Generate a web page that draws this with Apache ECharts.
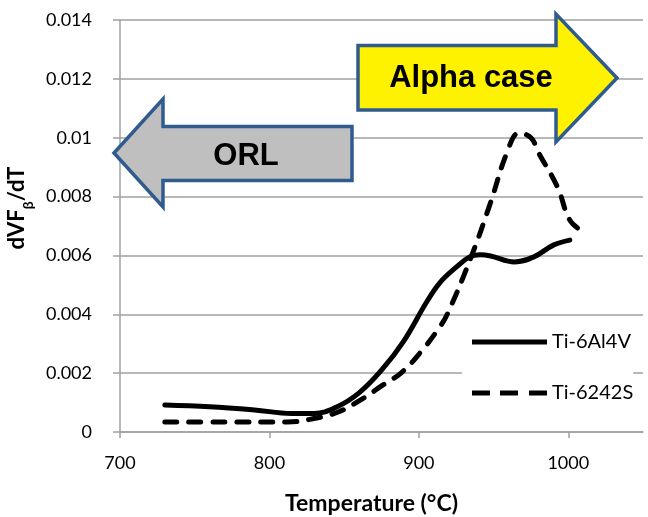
<!DOCTYPE html>
<html>
<head>
    <meta charset="utf-8">
    <title>dVFβ/dT vs Temperature</title>
    <script src="https://cdn.jsdelivr.net/npm/echarts@6/dist/echarts.min.js"></script>
    <style>
        html, body { margin: 0; height: 100%; background: #fff; }
        #main { width: 648px; height: 517px; }
    </style>
</head>
<body>
    <div id="main"></div>
    <script>
        // data (temperature in °C, dVFβ/dT)
        var seriesNames = ['Ti-6Al4V', 'Ti-6242S'];
        var tempA = [730, 760, 790, 815, 830, 845, 860, 875, 890, 905, 914, 925, 934, 941, 948, 964, 977, 990, 1001];
        var valA = [0.00092, 0.00086, 0.00075, 0.00063, 0.00063, 0.00085, 0.00133, 0.0021, 0.0031, 0.0044, 0.00507, 0.0056, 0.00595, 0.00602, 0.00598, 0.00578, 0.00595, 0.00635, 0.00652];
        var tempB = [730, 770, 812, 829, 846, 863, 876, 888, 901, 913, 919, 935, 948, 959, 967, 975, 980, 993, 1001, 1010];
        var valB = [0.00034, 0.00034, 0.00034, 0.00045, 0.00068, 0.00115, 0.0016, 0.002, 0.0027, 0.0035, 0.004, 0.00595, 0.0078, 0.0095, 0.01016, 0.0100, 0.0095, 0.0083, 0.0072, 0.0068];
        var arrowLabels = ['Alpha case', 'ORL'];

        function pairs(xs, ys) {
            return xs.map(function (x, i) { return [x, ys[i]]; });
        }

        var font = 'Lato, "Open Sans", sans-serif';
        var gridGray = '#a0a0a0';
        var arrowBlue = '#2f5b8e';

        // legend icons: thick solid bar and three dashes
        var solidIcon = 'path://M0,0H75V5H0Z';
        var dashIcon = 'path://M0,0H18V5H0Z M28,0H46V5H28Z M57,0H75V5H57Z';

        var chart = echarts.init(document.getElementById('main'));

        var option = {
            animation: false,
            grid: { left: 120, right: 5, top: 20, bottom: 85, outerBoundsMode: 'none' },
            legend: {
                orient: 'vertical',
                left: 462,
                top: 324,
                itemWidth: 75,
                itemHeight: 5,
                itemGap: 31,
                padding: [8, 0, 12, 10],
                backgroundColor: '#fff',
                textStyle: { fontFamily: font, fontSize: 20, color: '#000' },
                data: [
                    { name: seriesNames[0], icon: solidIcon },
                    { name: seriesNames[1], icon: dashIcon }
                ]
            },
            xAxis: {
                type: 'value',
                min: 700,
                max: 1050,
                interval: 100,
                name: 'Temperature (°C)',
                nameLocation: 'middle',
                nameGap: 60,
                nameTextStyle: { fontFamily: font, fontSize: 23, fontWeight: 'bold', color: '#000', padding: [0, 20, 0, 0] },
                axisLine: { lineStyle: { color: gridGray, width: 1.5 } },
                axisTick: { show: true, length: 6, lineStyle: { color: gridGray, width: 1.5 } },
                axisLabel: {
                    fontFamily: font, fontSize: 18, color: '#000', margin: 22, showMaxLabel: false,
                    formatter: function (v) { return String(v); }
                },
                splitLine: { show: false }
            },
            yAxis: {
                type: 'value',
                min: 0,
                max: 0.014,
                interval: 0.002,
                name: 'dVF{b|β}/dT',
                nameLocation: 'middle',
                nameGap: 82,
                nameTextStyle: {
                    fontFamily: font, fontSize: 22, fontWeight: 'bold', color: '#000',
                    padding: [0, 0, 0, 36],
                    rich: { b: { fontFamily: font, fontSize: 14, fontWeight: 'bold', color: '#000', verticalAlign: 'bottom', padding: [0, 0, -7, 0] } }
                },
                axisLine: { show: true, lineStyle: { color: gridGray, width: 1.5 } },
                axisTick: { show: true, inside: false, length: 7, lineStyle: { color: gridGray, width: 1.5 } },
                axisLabel: {
                    fontFamily: font, fontSize: 18, color: '#000', margin: 28,
                    formatter: function (v) { return String(+v.toFixed(3)); }
                },
                splitLine: { lineStyle: { color: gridGray, width: 1.5 } }
            },
            series: [
                {
                    name: seriesNames[0],
                    type: 'line',
                    data: pairs(tempA, valA),
                    smooth: 0.4,
                    symbol: 'none',
                    lineStyle: { color: '#000', width: 5, cap: 'round' },
                    itemStyle: { color: '#000' },
                    z: 3
                },
                {
                    name: seriesNames[1],
                    type: 'line',
                    data: pairs(tempB, valB),
                    smooth: 0.4,
                    symbol: 'none',
                    lineStyle: { color: '#000', width: 5, type: [12, 12], cap: 'round' },
                    itemStyle: { color: '#000' },
                    z: 2
                }
            ],
            graphic: [
                {
                    type: 'polygon',
                    z: 10,
                    shape: { points: [[358, 45.5], [556, 45.5], [556, 14], [617, 78], [556, 142], [556, 110], [358, 110]] },
                    style: { fill: '#fff200', stroke: arrowBlue, lineWidth: 3.5, lineJoin: 'miter' }
                },
                {
                    type: 'text',
                    z: 11,
                    x: 471, y: 78,
                    style: { text: arrowLabels[0], fill: '#000', font: 'bold 31px "Liberation Sans", Arial, sans-serif', align: 'center', verticalAlign: 'middle' }
                },
                {
                    type: 'polygon',
                    z: 10,
                    shape: { points: [[114, 153], [163, 99], [163, 126.5], [352, 126.5], [352, 180.6], [163, 180.6], [163, 207]] },
                    style: { fill: '#bfbfbf', stroke: arrowBlue, lineWidth: 3.5, lineJoin: 'miter' }
                },
                {
                    type: 'text',
                    z: 11,
                    x: 246, y: 156,
                    style: { text: arrowLabels[1], fill: '#000', font: 'bold 31px "Liberation Sans", Arial, sans-serif', align: 'center', verticalAlign: 'middle' }
                }
            ]
        };

        chart.setOption(option);
    </script>
</body>
</html>
